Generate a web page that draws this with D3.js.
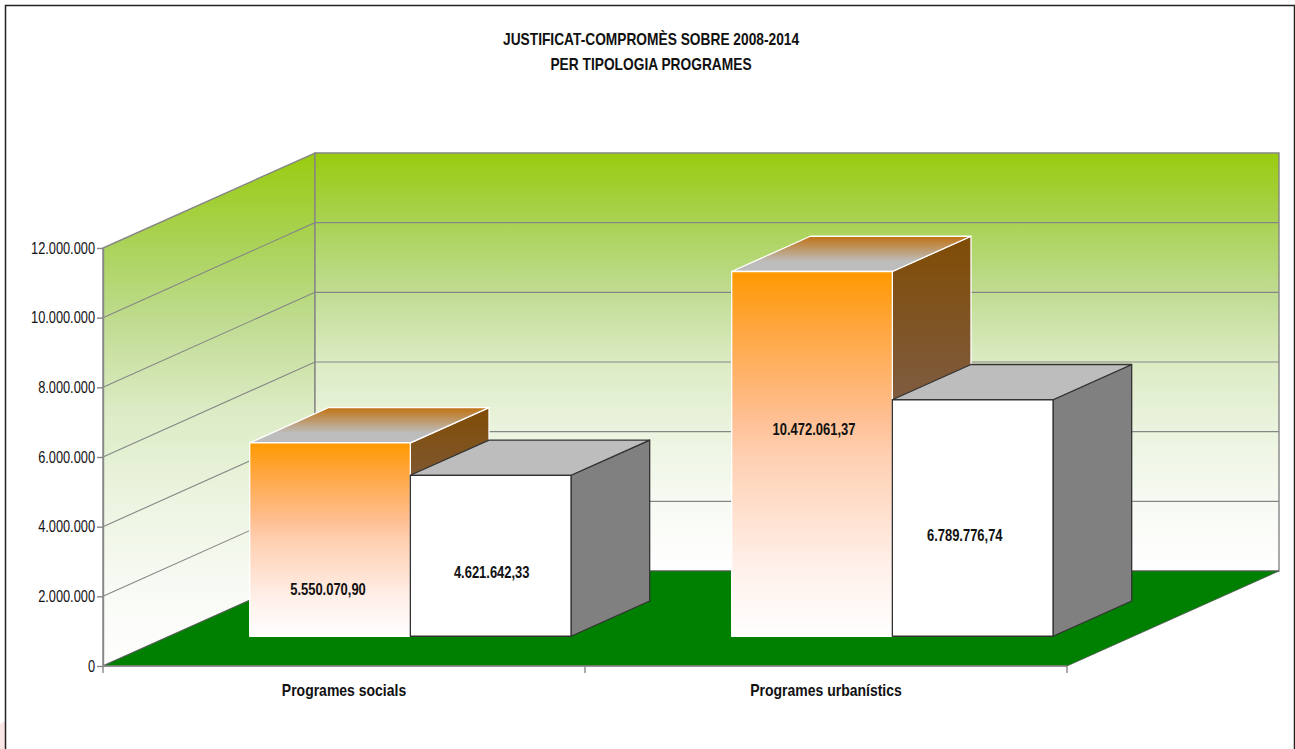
<!DOCTYPE html>
<html>
<head>
<meta charset="utf-8">
<script src="https://cdn.jsdelivr.net/npm/d3@7"></script>
<style>
    html, body { margin: 0; padding: 0; background: #fff; overflow: hidden; }
    svg { display: block; font-family: "Liberation Sans", Arial, sans-serif; }
    svg text { transform-box: fill-box; }
    .axis-y text { font-size: 16px; fill: #111; transform: scaleX(0.8); transform-origin: right center; }
    .axis-x text { font-size: 16px; font-weight: 700; fill: #111; transform: scaleX(0.875); transform-origin: center; }
    .axis path, .axis line { stroke: #868686; stroke-width: 1.4px; }
    .title { font-size: 16px; font-weight: 700; fill: #111; text-anchor: middle; transform: scaleX(0.86); transform-origin: center; }
    .value { font-size: 16px; font-weight: 700; fill: #111; text-anchor: middle; transform: scaleX(0.81); transform-origin: center; }
</style>
</head>
<body>
<div id="chart"></div>
<script>
// ============================================
// Data
// ============================================
const titleLines = ['JUSTIFICAT-COMPROMÈS SOBRE 2008-2014', 'PER TIPOLOGIA PROGRAMES'];
const categories = ['Programes socials', 'Programes urbanístics'];
const seriesNames = ['orange', 'white'];
const orangeValues = [5550070.90, 10472061.37];
const whiteValues = [4621642.33, 6789776.74];
const valueLabels = [['5.550.070,90', '10.472.061,37'], ['4.621.642,33', '6.789.776,74']];
const yTicks = [0, 2000000, 4000000, 6000000, 8000000, 10000000, 12000000];

// ============================================
// Layout
// ============================================
const width = 1295, height = 749;
const plot = { left: 103, right: 1067, bottom: 666, top: 248 };
const depth = { dx: 212, dy: -95 };     // floor depth in screen px
const barDepthFrom = 0.313, barDepthTo = 0.684; // bars sit in this slice of the floor
// where each value label sits: share of its bar's height, and a sideways nudge in px
const labelShare = [[0.243, 0.567], [0.398, 0.427]];
const labelNudge = [[-2, 2], [1, -8]];

const svg = d3.select('#chart').append('svg')
    .attr('width', width)
    .attr('height', height);

const y = d3.scaleLinear().domain([0, 12000000]).range([plot.bottom, plot.top]);
const x0 = d3.scaleBand().domain(categories).range([plot.left, plot.right]);
const x1 = d3.scaleBand().domain(seriesNames).range([x0.bandwidth() / 6, x0.bandwidth() * 5 / 6]);

// project a point (screen x, value) back into the floor depth, t in 0..1
const project = (px, value, t) => [px + depth.dx * t, y(value) + depth.dy * t];
const pathOf = pts => d3.line()(pts) + 'Z';

// ============================================
// Gradients
// ============================================
const defs = svg.append('defs');
function gradient(id, stops) {
    const g = defs.append('linearGradient').attr('id', id)
        .attr('x1', 0).attr('y1', 0).attr('x2', 0).attr('y2', 1);
    stops.forEach(s => g.append('stop').attr('offset', s[0]).attr('stop-color', s[1]));
}
gradient('wall', [[0, '#99cc0f'], [0.167, '#a9d254'], [0.333, '#c0dc92'], [0.5, '#dcebc4'], [0.667, '#ebf4df'], [0.833, '#f7faf3'], [1, '#ffffff']]);
gradient('front', [[0, '#ff9900'], [0.16, '#ffa640'], [0.41, '#ffc095'], [0.5, '#ffcfb0'], [0.8, '#ffefe8'], [1, '#ffffff']]);
gradient('side', [[0, '#804c05'], [0.41, '#7f5c40'], [1, '#808080']]);
gradient('top', [[0, '#c07212'], [0.72, '#bdbdbd'], [1, '#bdbdbd']]);

// ============================================
// Frame
// ============================================
svg.append('path')
    .attr('d', 'M0,749L0,724L5,721L5,749Z')
    .attr('fill', '#fbe6e6');
svg.append('path')
    .attr('d', `M5.5,${height}V5.5H${width - 0.5}V${height}`)
    .attr('fill', 'none')
    .attr('stroke', '#222')
    .attr('stroke-width', 1.5);

// ============================================
// Walls and floor
// ============================================
const yMax = 12000000;
svg.append('path')
    .attr('d', pathOf([project(plot.left, 0, 0), project(plot.left, yMax, 0), project(plot.left, yMax, 1), project(plot.left, 0, 1)]))
    .attr('fill', 'url(#wall)')
    .attr('stroke', '#868686')
    .attr('stroke-width', 1.4);

svg.append('path')
    .attr('d', pathOf([project(plot.left, 0, 1), project(plot.left, yMax, 1), project(plot.right, yMax, 1), project(plot.right, 0, 1)]))
    .attr('fill', 'url(#wall)')
    .attr('stroke', '#868686')
    .attr('stroke-width', 1.4);

// Gridlines
yTicks.slice(1, -1).forEach(t => {
    svg.append('path')
        .attr('d', d3.line()([project(plot.left, t, 0), project(plot.left, t, 1), project(plot.right, t, 1)]))
        .attr('fill', 'none')
        .attr('stroke', '#868686')
        .attr('stroke-width', 1.1);
});

// Floor
svg.append('path')
    .attr('d', pathOf([project(plot.left, 0, 0), project(plot.left, 0, 1), project(plot.right, 0, 1), project(plot.right, 0, 0)]))
    .attr('fill', '#008000')
    .attr('stroke', '#555')
    .attr('stroke-width', 0.8);

// ============================================
// Axes
// ============================================
const dotted = d3.formatLocale({ decimal: ',', thousands: '.', grouping: [3], currency: ['', ''] }).format(',d');

const yAxis = svg.append('g')
    .attr('class', 'axis axis-y')
    .attr('transform', `translate(${plot.left},0)`)
    .call(d3.axisLeft(y).tickValues(yTicks).tickFormat(dotted).tickSize(6).tickSizeOuter(0));
yAxis.selectAll('text').attr('x', -8);

const xAxis = svg.append('g')
    .attr('class', 'axis axis-x')
    .attr('transform', `translate(0,${plot.bottom})`)
    .call(d3.axisBottom(x0).tickSize(0).tickPadding(19));
xAxis.select('.domain').attr('d', `M${plot.left},0H${plot.right}`).attr('stroke', '#666');
[plot.left, x0(categories[1]), plot.right].forEach(px => {
    xAxis.append('line')
        .attr('x1', px).attr('x2', px).attr('y1', 0).attr('y2', 7);
});

// ============================================
// Bars
// ============================================
function drawBar(cat, series, value, label, share, nudge, styles) {
    const a = x0(cat) + x1(series);
    const b = a + x1.bandwidth();
    const g = svg.append('g')
        .attr('stroke', styles.stroke)
        .attr('stroke-width', 1.3)
        .attr('stroke-linejoin', 'round');

    g.append('path')
        .attr('d', pathOf([project(b, 0, barDepthFrom), project(b, value, barDepthFrom), project(b, value, barDepthTo), project(b, 0, barDepthTo)]))
        .attr('fill', styles.side);
    g.append('path')
        .attr('d', pathOf([project(a, value, barDepthFrom), project(a, value, barDepthTo), project(b, value, barDepthTo), project(b, value, barDepthFrom)]))
        .attr('fill', styles.top);
    g.append('path')
        .attr('d', pathOf([project(a, 0, barDepthFrom), project(a, value, barDepthFrom), project(b, value, barDepthFrom), project(b, 0, barDepthFrom)]))
        .attr('fill', styles.front);

    const c = project((a + b) / 2, value * share, barDepthFrom);
    svg.append('text')
        .attr('class', 'value')
        .attr('x', c[0] + nudge)
        .attr('y', c[1] + 6)
        .text(label);
}

const orangeStyle = { stroke: '#ffffff', side: 'url(#side)', top: 'url(#top)', front: 'url(#front)' };
const whiteStyle = { stroke: '#333333', side: '#808080', top: '#bdbdbd', front: '#ffffff' };

categories.forEach((cat, i) => {
    drawBar(cat, 'orange', orangeValues[i], valueLabels[0][i], labelShare[0][i], labelNudge[0][i], orangeStyle);
    drawBar(cat, 'white', whiteValues[i], valueLabels[1][i], labelShare[1][i], labelNudge[1][i], whiteStyle);
});

// ============================================
// Title
// ============================================
svg.selectAll('.title')
    .data(titleLines)
    .enter()
    .append('text')
    .attr('class', 'title')
    .attr('x', 651)
    .attr('y', (d, i) => 45 + i * 25)
    .text(d => d);
</script>
</body>
</html>
